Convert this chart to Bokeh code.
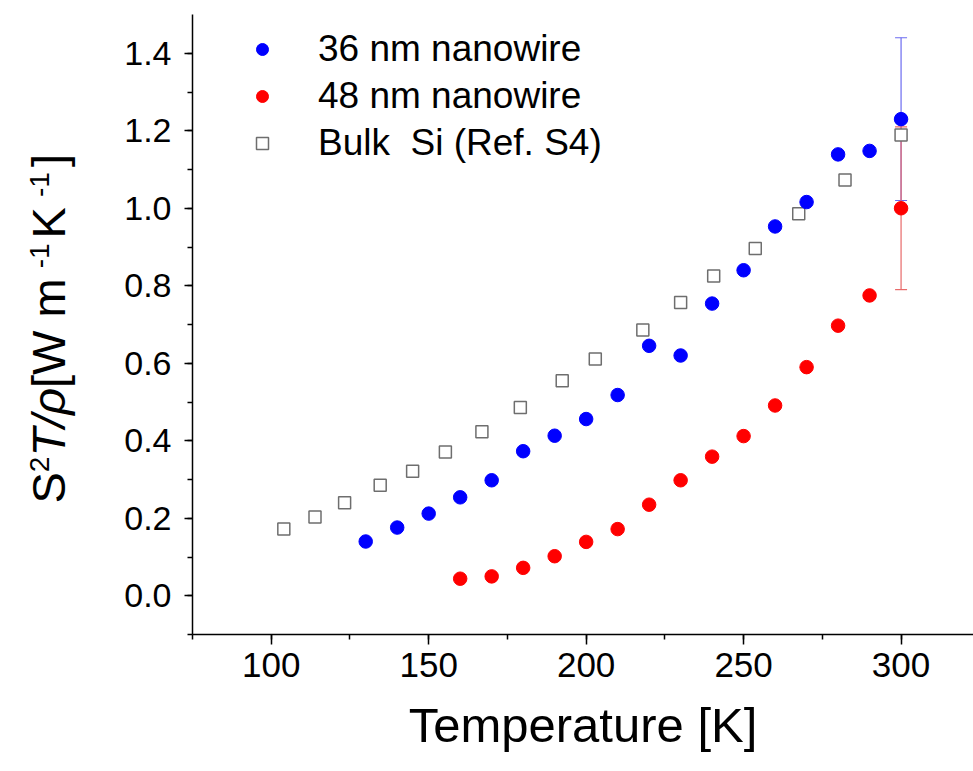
import math
from bokeh.plotting import figure
from bokeh.layouts import row
from bokeh.core.properties import value
from bokeh.models import (ColumnDataSource, Whisker, TeeHead, Legend, LegendItem,
                          SingleIntervalTicker, Range1d, PrintfTickFormatter)
from bokeh.embed import file_html
from bokeh.resources import INLINE

# ---- data ----
temp_36 = [130, 140, 150, 160, 170, 180, 190, 200, 210, 220, 230, 240, 250, 260, 270, 280, 290, 300]
pf_36 = [0.140, 0.176, 0.212, 0.254, 0.298, 0.373, 0.413, 0.456, 0.518, 0.645, 0.620, 0.754,
         0.840, 0.953, 1.016, 1.139, 1.148, 1.230]

temp_48 = [160, 170, 180, 190, 200, 210, 220, 230, 240, 250, 260, 270, 280, 290, 300]
pf_48 = [0.044, 0.050, 0.072, 0.102, 0.139, 0.172, 0.235, 0.298, 0.359, 0.412, 0.491, 0.590,
         0.697, 0.775, 1.000]

temp_bulk = [104.0, 113.9, 123.3, 134.6, 144.9, 155.3, 166.9, 179.1, 192.4, 202.9, 218.0,
             230.0, 240.5, 253.7, 267.5, 282.2, 300.0]
pf_bulk = [0.172, 0.203, 0.240, 0.285, 0.321, 0.371, 0.423, 0.486, 0.555, 0.611, 0.686,
           0.757, 0.825, 0.896, 0.986, 1.073, 1.189]

err_temp_36 = [300]
err_center_36 = [1.230]
err_half_36 = [0.21]

err_temp_48 = [300]
err_center_48 = [1.000]
err_half_48 = [0.21]

labels = ["36 nm nanowire", "48 nm nanowire", "Bulk  Si (Ref. S4)"]
x_title = "Temperature [K]"
# y title pieces: (text, is_superscript, is_italic)
y_title_parts = [("S", False, False), ("2", True, False), ("T/\u03c1", False, True),
                 (" [W m", False, False), ("-1", True, False), (" K", False, False),
                 ("-1", True, False), ("]", False, False)]

FONT = "Liberation Sans"
W_TITLE = 100
H = 771
FRAME_TOP, FRAME_BOTTOM = 14, 137
FRAME_H = H - FRAME_TOP - FRAME_BOTTOM

# ---------------- y-title strip (left); its frame is aligned with the main frame -------------
pt = figure(width=W_TITLE, height=H, x_range=Range1d(0, W_TITLE), y_range=Range1d(0, FRAME_H),
            x_axis_location=None, y_axis_location=None, output_backend="svg",
            toolbar_location=None, min_border_left=0, min_border_right=0,
            min_border_top=FRAME_TOP, min_border_bottom=FRAME_BOTTOM)
pt.outline_line_color = None
pt.grid.visible = False
pt.background_fill_color = "white"
pt.border_fill_color = "white"

EM = {"S": 0.667, "2": 0.556, "T": 0.611, "/": 0.278, "\u03c1": 0.57, " ": 0.278, "[": 0.278,
      "W": 0.944, "m": 0.833, "-": 0.333, "1": 0.556, "K": 0.667, "]": 0.278}
big, small = 47, 28
anchor_big, anchor_small = 48, 38.5
pos_y = 131
for txt, sup, ital in y_title_parts:
    size = small if sup else big
    shift = -3 if (sup and txt.startswith("-")) else 0
    pt.text(x=[anchor_small if sup else anchor_big], y=[pos_y + shift], text=[txt], angle=math.pi / 2,
            text_font=value(FONT), text_font_size=f"{size}px", text_color="black",
            text_font_style="italic" if ital else "normal",
            text_align="left", text_baseline="alphabetic")
    pos_y += sum(EM.get(c, 0.556) for c in txt) * size + (2 if shift else 0)

# ---------------- main plot ----------------
p = figure(width=973 - W_TITLE, height=H, x_range=Range1d(75, 323), y_range=Range1d(-0.1, 1.5),
           output_backend="svg", toolbar_location=None,
           min_border_left=192 - W_TITLE, min_border_right=0,
           min_border_top=FRAME_TOP, min_border_bottom=FRAME_BOTTOM)
p.outline_line_color = None
p.grid.visible = False
p.background_fill_color = "white"
p.border_fill_color = "white"

p.xaxis.ticker = SingleIntervalTicker(interval=50, num_minor_ticks=2)
p.yaxis.ticker = SingleIntervalTicker(interval=0.2, num_minor_ticks=2)
p.yaxis.formatter = PrintfTickFormatter(format="%.1f")

for ax in (p.xaxis[0], p.yaxis[0]):
    ax.axis_line_width = 1.5
    ax.axis_line_color = "black"
    ax.major_tick_line_width = 1.5
    ax.minor_tick_line_width = 1.5
    ax.major_tick_line_color = "black"
    ax.minor_tick_line_color = "black"
    ax.major_tick_in = 0
    ax.minor_tick_in = 0
    ax.minor_tick_out = 5
    ax.major_label_text_font = FONT
    ax.major_label_text_color = "black"
    ax.axis_label_text_font = FONT
    ax.axis_label_text_font_style = "normal"
    ax.axis_label_text_color = "black"

p.xaxis.major_tick_out = 10
p.xaxis.major_label_text_font_size = "35px"
p.xaxis.major_label_standoff = 8
p.xaxis.axis_label = x_title
p.xaxis.axis_label_text_font_size = "49px"
p.xaxis.axis_label_standoff = 18

p.yaxis.major_tick_out = 8
p.yaxis.major_label_text_font_size = "34px"
p.yaxis.major_label_standoff = 13

# error bars
src_e36 = ColumnDataSource(dict(x=err_temp_36,
                                up=[c + h for c, h in zip(err_center_36, err_half_36)],
                                lo=[c - h for c, h in zip(err_center_36, err_half_36)]))
src_e48 = ColumnDataSource(dict(x=err_temp_48,
                                up=[c + h for c, h in zip(err_center_48, err_half_48)],
                                lo=[c - h for c, h in zip(err_center_48, err_half_48)]))
blue_err = "#6b6bf0"
red_err = "#e86a6a"
w36 = Whisker(base="x", upper="up", lower="lo", source=src_e36, line_color=blue_err, line_width=1.2,
              upper_head=TeeHead(size=12, line_color=blue_err, line_width=1.2),
              lower_head=TeeHead(size=12, line_color=blue_err, line_width=1.2))
w48 = Whisker(base="x", upper="up", lower="lo", source=src_e48, line_color=red_err, line_width=1.2,
              upper_head=TeeHead(size=12, line_color=red_err, line_width=1.2),
              lower_head=TeeHead(size=12, line_color=red_err, line_width=1.2))
p.add_layout(w36)
p.add_layout(w48)

r_bulk = p.scatter(temp_bulk, pf_bulk, marker="square", size=12, fill_color="white",
                   line_color="#6e6e6e", line_width=1.5)
r36 = p.scatter(temp_36, pf_36, marker="circle", size=13.5, fill_color="#0000ff", line_color="#0000ff")
r48 = p.scatter(temp_48, pf_48, marker="circle", size=13.5, fill_color="#ff0000", line_color="#ff0000")

legend = Legend(items=[LegendItem(label=labels[0], renderers=[r36]),
                       LegendItem(label=labels[1], renderers=[r48]),
                       LegendItem(label=labels[2], renderers=[r_bulk])],
                location="top_left", border_line_color=None, background_fill_alpha=0,
                label_text_font=FONT, label_text_font_size="37px", label_text_color="black",
                glyph_width=112, glyph_height=30, label_height=30, label_standoff=0,
                spacing=5, padding=0, margin=14)
p.add_layout(legend)

layout = row(pt, p, spacing=0)
open("out.html", "w").write(file_html(layout, INLINE))
